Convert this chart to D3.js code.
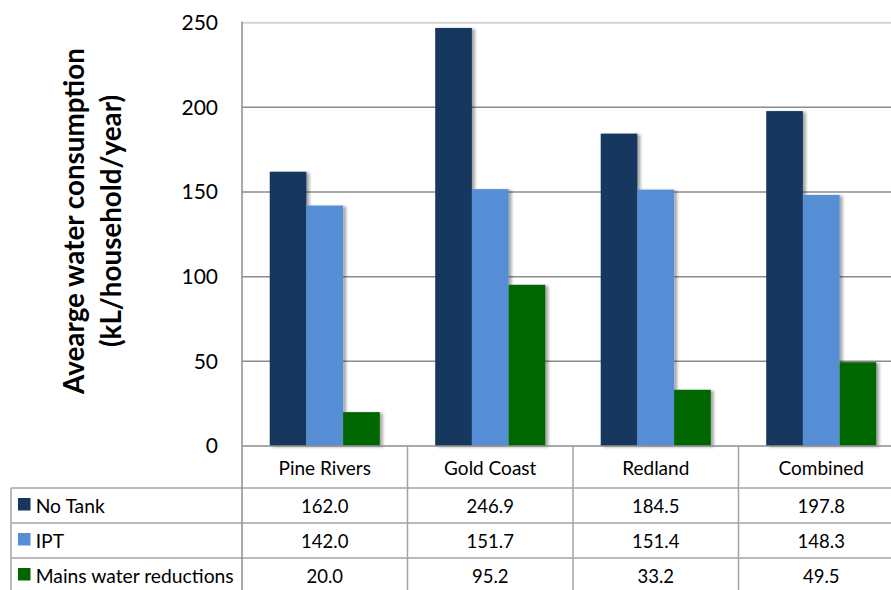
<!DOCTYPE html>
<html><head><meta charset="utf-8">
<script src="https://cdn.jsdelivr.net/npm/d3@7"></script>
<style>html,body{margin:0;padding:0;background:#fff;}svg{display:block;font-family:Lato,"Open Sans",sans-serif;}</style>
</head><body>
<svg id="c" width="891" height="590"></svg>
<script>
const categories = ["Pine Rivers", "Gold Coast", "Redland", "Combined"];
const seriesNames = ["No Tank", "IPT", "Mains water reductions"];
const noTank = [162.0, 246.9, 184.5, 197.8];
const ipt = [142.0, 151.7, 151.4, 148.3];
const mainsReductions = [20.0, 95.2, 33.2, 49.5];
const yTicks = [0, 50, 100, 150, 200, 250];
const yTitleLines = ["Avearge water consumption", "(kL/household/year)"];
const colors = ["#17375e", "#558ed5", "#006600"];

const seriesValues = [noTank, ipt, mainsReductions];
const W = 891, H = 590;
const plotLeft = 242, plotTop = 22.7, base = 446;
const bandW = 165.5;
const svg = d3.select("#c");

const defs = svg.append("defs");
const f = defs.append("filter").attr("id","sh").attr("x","-20%").attr("y","-10%").attr("width","150%").attr("height","120%");
f.append("feDropShadow").attr("dx",3).attr("dy",1).attr("stdDeviation",1.8).attr("flood-color","#000").attr("flood-opacity",0.35);

const x = d3.scaleBand().domain(categories).range([plotLeft, plotLeft + bandW*categories.length]).paddingInner(0).paddingOuter(0);
const x1 = d3.scaleBand().domain(seriesNames).range([0, x.bandwidth()]).paddingInner(0).paddingOuter(0.755);
const y = d3.scaleLinear().domain([0, 250]).range([base, plotTop]);

// gridlines
svg.append("g").selectAll("line").data(yTicks.filter(d => d > 0)).join("line")
  .attr("x1", plotLeft).attr("x2", W).attr("y1", d => y(d)).attr("y2", d => y(d))
  .attr("stroke", d => d === 250 ? "#d4d4d4" : "#8c8c8c").attr("stroke-width", d => d === 250 ? 2 : 1.5);

// y axis labels
const yAxis = d3.axisLeft(y).tickValues(yTicks).tickSize(0).tickPadding(24);
const ga = svg.append("g").attr("transform", `translate(${plotLeft},0)`).call(yAxis);
ga.select(".domain").remove();
ga.selectAll("text").attr("font-family","Lato, sans-serif").attr("font-size", 21).attr("fill", "#000");

// bars
const rows = categories.map((c, i) => ({c, vals: seriesNames.map((s, j) => ({s, v: seriesValues[j][i], j}))}));
const g = svg.append("g");
rows.forEach(r => {
  g.append("g").attr("transform", `translate(${x(r.c)},0)`).selectAll("rect").data(r.vals).join("rect")
    .attr("x", d => x1(d.s)).attr("width", x1.bandwidth())
    .attr("y", d => y(d.v)).attr("height", d => base - y(d.v))
    .attr("fill", d => colors[d.j]).attr("filter", "url(#sh)");
});

// table
const lineCol = "#a3a3a3";
const headerBottom = 488, rowH = 35;
const tbl = svg.append("g");
tbl.append("line").attr("x1", plotLeft).attr("x2", W).attr("y1", base).attr("y2", base).attr("stroke", "#8c8c8c").attr("stroke-width", 1.5);
[0,1,2,3].forEach(k => {
  const yy = headerBottom + k*rowH;
  tbl.append("line").attr("x1", 11).attr("x2", W).attr("y1", yy).attr("y2", yy).attr("stroke", lineCol).attr("stroke-width", 1.5);
});
tbl.append("line").attr("x1", plotLeft).attr("x2", plotLeft).attr("y1", plotTop - 1).attr("y2", H).attr("stroke", "#8c8c8c").attr("stroke-width", 1.5);
tbl.append("line").attr("x1", 11).attr("x2", 11).attr("y1", headerBottom).attr("y2", H).attr("stroke", lineCol).attr("stroke-width", 1.5);
categories.slice(1).forEach(c => {
  tbl.append("line").attr("x1", x(c)).attr("x2", x(c)).attr("y1", base).attr("y2", H).attr("stroke", lineCol).attr("stroke-width", 1.5);
});
tbl.selectAll("text.h").data(categories).join("text").attr("class","h")
  .attr("x", d => x(d) + x.bandwidth()/2).attr("y", 475).attr("text-anchor","middle")
  .attr("font-size", 19).attr("fill","#000").text(d => d);
seriesNames.forEach((s, j) => {
  const yc = headerBottom + j*rowH + rowH/2;
  tbl.append("rect").attr("x", 18).attr("y", yc - 7.5).attr("width", 12.5).attr("height", 12.5).attr("fill", colors[j]);
  tbl.append("text").attr("x", 35.7).attr("y", yc + 7).attr("font-size", 19.3).attr("fill","#000").text(s);
  tbl.append("g").selectAll("text").data(categories).join("text")
    .attr("x", d => x(d) + x.bandwidth()/2).attr("y", yc + 7.5).attr("text-anchor","middle")
    .attr("font-size", 18.5).attr("fill","#000").text((d, i) => seriesValues[j][i].toFixed(1));
});

const tt = svg.append("text").attr("transform", "translate(84,221) rotate(-90)").attr("text-anchor","middle")
  .attr("font-weight","bold").attr("font-size", 27.8).attr("fill","#000");
tt.append("tspan").attr("x",0).attr("y",0).text(yTitleLines[0]);
tt.append("tspan").attr("x",0).attr("y",37).text(yTitleLines[1]);
</script>
</body></html>
